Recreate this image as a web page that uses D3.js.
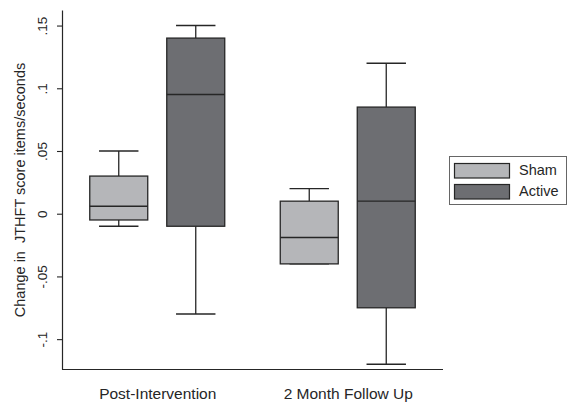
<!DOCTYPE html>
<html>
<head>
<meta charset="utf-8">
<script src="https://cdn.jsdelivr.net/npm/d3@7"></script>
<style>
  html, body { margin: 0; padding: 0; background: #fff; }
  svg { display: block; font-family: "Liberation Sans", Arial, sans-serif; }
</style>
</head>
<body>
<svg id="chart" width="569" height="402"></svg>
<script>
// ---- data ----
const categories = ["Post-Intervention", "2 Month Follow Up"];
const series = ["Sham", "Active"];
const seriesColors = ["#b5b6b9", "#6d6e72"];

const shamMin    = [-0.010, -0.040];
const shamQ1     = [-0.005, -0.040];
const shamMedian = [ 0.006, -0.019];
const shamQ3     = [ 0.030,  0.010];
const shamMax    = [ 0.050,  0.020];

const activeMin    = [-0.080, -0.120];
const activeQ1     = [-0.010, -0.075];
const activeMedian = [ 0.095,  0.010];
const activeQ3     = [ 0.140,  0.085];
const activeMax    = [ 0.150,  0.120];

const yTickValues = [-0.1, -0.05, 0, 0.05, 0.1, 0.15];
const yTickLabels = ["-.1", "-.05", "0", ".05", ".1", ".15"];
const yTitle = "Change in  JTHFT score items/seconds";

// ---- build table ----
const stats = {
  Sham:   { min: shamMin, q1: shamQ1, med: shamMedian, q3: shamQ3, max: shamMax },
  Active: { min: activeMin, q1: activeQ1, med: activeMedian, q3: activeQ3, max: activeMax }
};
const boxes = [];
categories.forEach((c, i) => {
  series.forEach((s, j) => {
    const st = stats[s];
    boxes.push({ cat: c, series: s, color: seriesColors[j],
      min: st.min[i], q1: st.q1[i], med: st.med[i], q3: st.q3[i], max: st.max[i] });
  });
});

// ---- layout ----
const svg = d3.select("#chart");
const plotLeft = 62, plotRight = 443, plotTop = 10, plotBottom = 369;
const ink = "#262626";

const x0 = d3.scalePoint().domain(categories).range([plotLeft, plotRight]).padding(0.5);
const x1 = d3.scaleBand().domain(series).range([-96.75, 96.75])
  .paddingInner(0.247).paddingOuter(0.38);
const y = d3.scaleLinear().domain([-0.1238, 0.1624]).range([plotBottom, plotTop]);

// y axis
const yAxis = d3.axisLeft(y).tickValues(yTickValues)
  .tickFormat((d, i) => yTickLabels[i]).tickSize(5).tickSizeOuter(0);
const gy = svg.append("g").attr("transform", `translate(${plotLeft},0)`).call(yAxis);
gy.select(".domain").attr("stroke", ink).attr("stroke-width", 1.2);
gy.selectAll(".tick line").attr("stroke", ink).attr("stroke-width", 1.1);
gy.selectAll(".tick text")
  .attr("fill", ink).attr("font-size", 13.5)
  .attr("x", 0).attr("dy", 0)
  .attr("text-anchor", "middle")
  .attr("transform", "translate(-19,0) rotate(-90)")
  .attr("dominant-baseline", "middle");

// x axis
const xAxis = d3.axisBottom(x0).tickSize(0).tickSizeOuter(0);
const gx = svg.append("g").attr("transform", `translate(0,${plotBottom})`).call(xAxis);
gx.select(".domain").attr("stroke", ink).attr("stroke-width", 1.2)
  .attr("d", `M${plotLeft},0.5H${plotRight}`);
gx.selectAll(".tick text").attr("fill", ink).attr("font-size", 15.5)
  .attr("dy", 0).attr("y", 30);

// y title
svg.append("text")
  .attr("transform", `translate(25,${(63 + 317) / 2}) rotate(-90)`)
  .attr("text-anchor", "middle")
  .attr("font-size", 14.5).attr("fill", ink)
  .style("white-space", "pre")
  .text(yTitle);

// boxes
const g = svg.append("g");
const bw = x1.bandwidth();
const capW = bw * 0.68;
boxes.forEach(b => {
  const cx = x0(b.cat) + x1(b.series) + bw / 2;
  const gb = g.append("g");
  gb.append("line").attr("x1", cx).attr("x2", cx)
    .attr("y1", y(b.q3)).attr("y2", y(b.max))
    .attr("stroke", ink).attr("stroke-width", 1.3);
  gb.append("line").attr("x1", cx).attr("x2", cx)
    .attr("y1", y(b.q1)).attr("y2", y(b.min))
    .attr("stroke", ink).attr("stroke-width", 1.3);
  gb.append("line").attr("x1", cx - capW / 2).attr("x2", cx + capW / 2)
    .attr("y1", y(b.max)).attr("y2", y(b.max))
    .attr("stroke", ink).attr("stroke-width", 1.4);
  gb.append("line").attr("x1", cx - capW / 2).attr("x2", cx + capW / 2)
    .attr("y1", y(b.min)).attr("y2", y(b.min))
    .attr("stroke", ink).attr("stroke-width", 1.4);
  gb.append("rect")
    .attr("x", cx - bw / 2).attr("width", bw)
    .attr("y", y(b.q3)).attr("height", y(b.q1) - y(b.q3))
    .attr("fill", b.color).attr("stroke", ink).attr("stroke-width", 1.3);
  gb.append("line").attr("x1", cx - bw / 2).attr("x2", cx + bw / 2)
    .attr("y1", y(b.med)).attr("y2", y(b.med))
    .attr("stroke", ink).attr("stroke-width", 1.4);
});

// legend
const lg = svg.append("g");
lg.append("rect").attr("x", 449.5).attr("y", 156.5).attr("width", 117).attr("height", 48)
  .attr("fill", "#fff").attr("stroke", "#666").attr("stroke-width", 1);
series.forEach((s, j) => {
  const yy = 163.5 + j * 21;
  lg.append("rect").attr("x", 454.5).attr("y", yy).attr("width", 55).attr("height", 14.5)
    .attr("fill", seriesColors[j]).attr("stroke", ink).attr("stroke-width", 1.2);
  lg.append("text").attr("x", 519).attr("y", yy + 7.5)
    .attr("dominant-baseline", "middle")
    .attr("font-size", 14.5).attr("fill", ink).text(s);
});
</script>
</body>
</html>
